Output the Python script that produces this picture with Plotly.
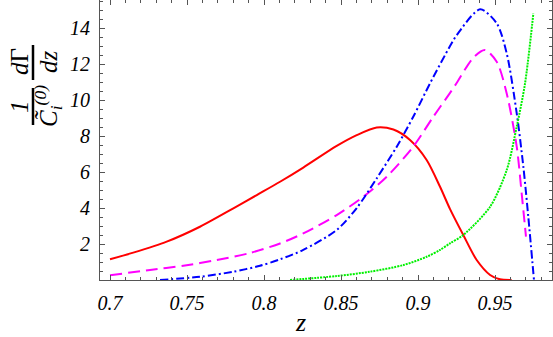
import plotly.graph_objects as go

# Data
red_z = [0.7000, 0.7151, 0.7368, 0.7584, 0.7801, 0.7953, 0.8104, 0.8255, 0.8472, 0.8602, 0.8732, 0.8840, 0.8948, 0.9056, 0.9143, 0.9208, 0.9294, 0.9381, 0.9468, 0.9532, 0.9608]
red_y = [1.15, 1.52, 2.13, 2.96, 3.98, 4.72, 5.46, 6.25, 7.45, 8.05, 8.48, 8.36, 7.78, 6.67, 5.18, 3.94, 2.50, 1.11, 0.28, 0.04, 0.0]

mag_z = [0.7000, 0.7260, 0.7476, 0.7693, 0.7909, 0.8104, 0.8255, 0.8472, 0.8645, 0.8797, 0.8969, 0.9099, 0.9208, 0.9251, 0.9359, 0.9435, 0.9511, 0.9576, 0.9641, 0.9673, 0.9701]
mag_y = [0.26, 0.56, 0.79, 1.11, 1.50, 2.03, 2.59, 3.61, 4.63, 5.74, 7.41, 9.07, 10.40, 10.95, 12.35, 12.78, 12.13, 10.37, 7.41, 4.82, 2.41]

blue_z = [0.7325, 0.7584, 0.7801, 0.7974, 0.8104, 0.8255, 0.8472, 0.8602, 0.8732, 0.8862, 0.8969, 0.9078, 0.9208, 0.9251, 0.9403, 0.9511, 0.9576, 0.9641, 0.9684, 0.9716, 0.9753]
blue_y = [0.0, 0.18, 0.46, 0.79, 1.15, 1.67, 2.78, 4.00, 5.65, 7.41, 9.07, 10.93, 13.0, 13.6, 15.04, 14.26, 12.59, 9.26, 6.29, 3.52, 0.0]

green_z = [0.8169, 0.8472, 0.8688, 0.8905, 0.9056, 0.9143, 0.9208, 0.9294, 0.9468, 0.9576, 0.9641, 0.9695, 0.9749]
green_y = [0.0, 0.22, 0.46, 0.83, 1.29, 1.67, 2.04, 2.50, 4.07, 6.11, 8.52, 10.93, 14.82]

x_ticks = [0.7, 0.75, 0.8, 0.85, 0.9, 0.95]
x_labels = ["0.7", "0.75", "0.8", "0.85", "0.9", "0.95"]
y_ticks = [2, 4, 6, 8, 10, 12, 14]
y_labels = ["2", "4", "6", "8", "10", "12", "14"]

W, H = 553, 337
ML, MR, MT, MB = 100, 1, 0, 57
PW, PH = W - ML - MR, H - MT - MB

def px(xp):
    return (xp - ML) / PW

def py(yp):
    return (H - MB - yp) / PH

SERIF = "Liberation Serif, Times New Roman, serif"

fig = go.Figure()
lw = 2
sm = 0.8
fig.add_trace(go.Scatter(x=red_z, y=red_y, mode="lines", line=dict(color="#ff0000", width=lw, shape="spline", smoothing=sm)))
fig.add_trace(go.Scatter(x=mag_z, y=mag_y, mode="lines", line=dict(color="#ff00ff", width=lw, dash="12px,6px", shape="spline", smoothing=sm)))
fig.add_trace(go.Scatter(x=blue_z, y=blue_y, mode="lines", line=dict(color="#0000ff", width=lw, dash="8px,3px,2px,3px", shape="spline", smoothing=sm)))
fig.add_trace(go.Scatter(x=green_z, y=green_y, mode="lines", line=dict(color="#00f000", width=lw, dash="2px,1px", shape="spline", smoothing=sm)))

tickfont = dict(family=SERIF, size=20, color="black", style="italic")
axcol = "#555555"
fig.update_xaxes(range=[0.6935, 0.987], tickvals=x_ticks, ticktext=x_labels,
                 ticks="inside", ticklen=5, automargin=False, ticklabelstandoff=5,
                 tickcolor=axcol, showline=True, linecolor=axcol, linewidth=1, mirror="allticks",
                 showgrid=False, zeroline=False, tickfont=tickfont,
                 minor=dict(dtick=0.01, tick0=0.7, ticks="inside", ticklen=3, tickcolor=axcol, showgrid=False))
fig.update_yaxes(range=[0, 15.56], tickvals=y_ticks, ticktext=y_labels,
                 ticks="inside", ticklen=5, automargin=False, ticklabelstandoff=5,
                 tickcolor=axcol, showline=True, linecolor=axcol, linewidth=1, mirror="allticks",
                 showgrid=False, zeroline=False, tickfont=tickfont,
                 minor=dict(dtick=0.5, tick0=0, ticks="inside", ticklen=3, tickcolor=axcol, showgrid=False))

lab_font = dict(family=SERIF, size=25, color="black")
anns = [
    ("<i>1</i>", 19, 107),
    ("<i>d</i>Γ", 19, 62),
    ("<i>C\u0303<sub>i</sub><sup>(0)</sup></i>", 48, 106),
    ("<i>dz</i>", 48, 62),
]
for t, xx, yy in anns:
    fig.add_annotation(text=t, x=px(xx), y=py(yy), xref="paper", yref="paper", showarrow=False,
                       textangle=-90, font=lab_font, xanchor="center", yanchor="middle")
fig.add_annotation(text="<i>z</i>", x=px(300), y=py(322), xref="paper", yref="paper", showarrow=False,
                   font=dict(family=SERIF, size=26, color="black"), xanchor="center", yanchor="middle")
for y0, y1 in [(88, 125), (45, 80)]:
    fig.add_shape(type="line", xref="paper", yref="paper", x0=px(33), x1=px(33), y0=py(y0), y1=py(y1),
                  line=dict(color="black", width=2.5))

fig.update_layout(width=W, height=H, margin=dict(l=ML, r=MR, t=MT, b=MB), showlegend=False,
                  plot_bgcolor="white", paper_bgcolor="white", font=dict(family=SERIF))
fig.write_html("out.html", config={"displayModeBar": False},
               post_script="document.body.style.margin='0';document.body.style.overflow='hidden';")
